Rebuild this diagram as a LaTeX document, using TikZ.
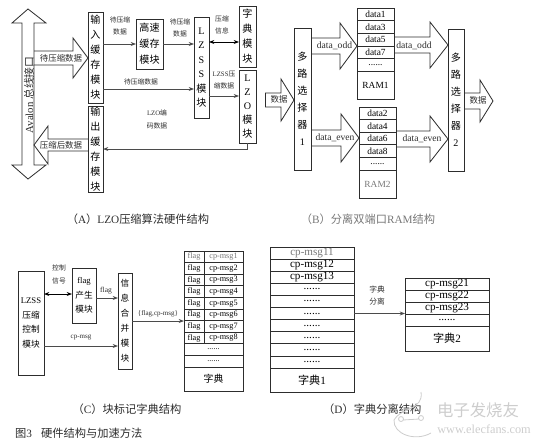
\documentclass[tikz,border=0pt]{standalone}
\usepackage{fontspec}
\setmainfont{Liberation Serif}
\newfontfamily\cjk{Noto Sans CJK SC}
\usepackage{xcolor}
\usetikzlibrary{arrows.meta, calc}
\definecolor{cLine}{RGB}{45,45,45}
\definecolor{cArrow}{RGB}{75,75,75}
\definecolor{cFaint}{RGB}{120,120,120}
\definecolor{cMark}{RGB}{205,205,205}
\newcommand{\zh}[1]{{\cjk #1}}
\def\ux{0.03cm}
\tikzset{
	modbox/.style   ={rectangle, draw=cLine, line width=0.7pt, fill=white, align=center, inner sep=0pt, outer sep=0pt, font=\fontsize{8.6}{12.8}\selectfont},
	ramcell/.style  ={rectangle, draw=cLine, line width=0.6pt, minimum width=37*\ux, minimum height=12.6*\ux, inner sep=0pt, outer sep=0pt, font=\fontsize{8}{9}\selectfont},
	flagcell/.style ={rectangle, draw=cLine, line width=0.6pt, minimum width=20*\ux, minimum height=11.6*\ux, inner sep=0pt, outer sep=0pt, font=\fontsize{7}{8}\selectfont},
	msgcell/.style  ={rectangle, draw=cLine, line width=0.6pt, minimum width=39*\ux, minimum height=11.6*\ux, inner sep=0pt, outer sep=0pt, font=\fontsize{7}{8}\selectfont},
	wholecell/.style={rectangle, draw=cLine, line width=0.6pt, minimum width=59*\ux, minimum height=11.6*\ux, inner sep=0pt, outer sep=0pt, font=\fontsize{7}{8}\selectfont},
	dictcell/.style ={rectangle, draw=cLine, line width=0.6pt, minimum width=84*\ux, minimum height=12.1*\ux, inner sep=0pt, outer sep=0pt, font=\fontsize{9.5}{10}\selectfont},
	smalllbl/.style ={inner sep=0pt, align=center, text=cLine, font=\fontsize{5.8}{10.6}\selectfont},
	arrowlbl/.style ={inner sep=0pt, align=center, text=cLine, font=\fontsize{7.2}{9}\selectfont},
	datalbl/.style  ={inner sep=0pt, text=cLine, font=\fontsize{8.2}{9}\selectfont},
	caption/.style  ={inner sep=0pt, text=cLine, font=\fontsize{9.6}{11}\selectfont},
	sig/.style      ={-{Stealth[length=1.6mm]}, draw=cArrow, line width=0.7pt},
	sigboth/.style  ={{Stealth[length=1.6mm]}-{Stealth[length=1.6mm]}, draw=black, line width=0.7pt},
	blockline/.style={draw=cLine, line width=0.7pt},
}
\newcommand{\harrow}[6]{%
	\draw[blockline] (#1,{#4-#5}) -- (#2,{#4-#5}) -- (#2,{#4-#6}) -- (#3,#4) -- (#2,{#4+#6}) -- (#2,{#4+#5}) -- (#1,{#4+#5});}

\begin{document}
\begin{tikzpicture}[x=\ux, y=-\ux]
	\useasboundingbox (0,0) rectangle (541,445);
	% panel A
	\draw[blockline] (28,9) -- (46,23) -- (34,23) -- (34,165) -- (46,165) -- (28,179) -- (12,165) -- (22,165) -- (22,23) -- (12,23) -- cycle;
	\node[arrowlbl, rotate=90] (busname) at (29,95) {\fontsize{9.2}{10}\selectfont Avalon \zh{总线接口}};
	\harrow{34}{73}{88}{58}{7}{20}
	\harrow{88}{48}{34}{145}{6}{19}
	\node[arrowlbl] (busin) at (61,58) {\zh{待压缩数据}};
	\node[arrowlbl] (busout) at (61,145) {\zh{压缩后数据}};
	\node[modbox, minimum width=15*\ux, minimum height=91*\ux] (inbuf) at (95.5,57.5) {\zh{输}\\\zh{入}\\\zh{缓}\\\zh{存}\\\zh{模}\\\zh{块}};
	\node[modbox, minimum width=15*\ux, minimum height=86*\ux] (outbuf) at (95.5,149) {\zh{输}\\\zh{出}\\\zh{缓}\\\zh{存}\\\zh{模}\\\zh{块}};
	\node[modbox, minimum width=27*\ux, minimum height=50*\ux, font=\fontsize{8.6}{13.6}\selectfont] (cache) at (149.5,44) {\zh{高速}\\\zh{缓存}\\\zh{模块}};
	\node[modbox, minimum width=15*\ux, minimum height=101*\ux, font=\fontsize{8.6}{12.4}\selectfont] (lzss) at (201.5,67.5) {L\\Z\\S\\S\\\zh{模}\\\zh{块}};
	\node[modbox, minimum width=17*\ux, minimum height=61*\ux] (dict) at (247.5,36.5) {\zh{字}\\\zh{典}\\\zh{模}\\\zh{块}};
	\node[modbox, minimum width=17*\ux, minimum height=73*\ux, font=\fontsize{8.6}{12}\selectfont] (lzo) at (247.5,106.5) {L\\Z\\O\\\zh{模}\\\zh{块}};
	\draw[sig] (inbuf.east |- cache.west) -- (cache.west);
	\draw[sig] (cache.east) -- (cache.east -| lzss.west);
	\draw[sig] (inbuf.east |- 0,89) -- (lzss.west |- 0,89);
	\draw[sigboth] (lzss.east |- 0,42) -- (dict.west |- 0,42);
	\draw[sig] (lzss.east |- 0,96) -- (lzo.west |- 0,96);
	\draw[sig] (lzo.south) |- (outbuf.east |- 0,149);
	\node[smalllbl] (lblcache) at (120,26) {\zh{待压缩}\\\zh{数据}};
	\node[smalllbl] (lbllzss) at (180,28) {\zh{待压缩}\\\zh{数据}};
	\node[smalllbl] (lblinfo) at (222,25) {\zh{压缩}\\\zh{信息}};
	\node[smalllbl] (lblzss) at (224,80) {LZSS\zh{压}\\\zh{缩数据}};
	\node[smalllbl] (lbldirect) at (141,82) {\zh{待压缩数据}};
	\node[smalllbl] (lblcode) at (157,119.5) {LZO\zh{编}\\\zh{码数据}};
	\node[caption] (capa) at (138,219) {\zh{（}A\zh{）}LZO\zh{压缩算法硬件结构}};
	% panel B
	\harrow{265}{281}{294}{100}{7}{21}
	\draw[blockline] (265,93) -- (265,107);
	\node[arrowlbl] (inleft) at (279,99) {\zh{数据}};
	\node[modbox, minimum width=17*\ux, minimum height=142*\ux, font=\fontsize{8.6}{14.5}\selectfont] (muxa) at (302.5,99) {\zh{多}\\\zh{路}\\\zh{选}\\\zh{择}\\\zh{器}\\1};
	\node[modbox, minimum width=16*\ux, minimum height=142*\ux, font=\fontsize{8.6}{14.5}\selectfont] (muxb) at (456,100) {\zh{多}\\\zh{路}\\\zh{选}\\\zh{择}\\\zh{器}\\2};
	\node[ramcell] (rama1) at (375.5,14.5) {data1};
	\node[ramcell] (rama2) at (375.5,27.1) {data3};
	\node[ramcell] (rama3) at (375.5,39.7) {data5};
	\node[ramcell] (rama4) at (375.5,52.3) {data7};
	\node[ramcell] (rama5) at (375.5,64.9) {......};
	\node[ramcell, minimum height=28*\ux] (rama6) at (375.5,85.2) {RAM1};
	\node[ramcell] (ramb1) at (377.5,113.3) {data2};
	\node[ramcell] (ramb2) at (377.5,125.9) {data4};
	\node[ramcell] (ramb3) at (377.5,138.5) {data6};
	\node[ramcell] (ramb4) at (377.5,151.1) {data8};
	\node[ramcell] (ramb5) at (377.5,163.7) {......};
	\node[ramcell, minimum height=28*\ux, text=cFaint] (ramb6) at (377.5,184) {RAM2};
	\harrow{311}{340}{357}{46}{8}{23}
	\harrow{394}{430}{448}{45}{8}{23}
	\harrow{311}{341}{359}{138}{8}{24}
	\harrow{396}{430}{448}{139}{8}{23}
	\harrow{464}{480}{493}{101}{8}{21}
	\node[datalbl] (oddin) at (334.5,45.5) {data\_odd};
	\node[datalbl] (oddout) at (414,45.5) {data\_odd};
	\node[datalbl] (evenin) at (335,137.5) {data\_even};
	\node[datalbl] (evenout) at (422,139) {data\_even};
	\node[arrowlbl] (outright) at (478,100) {\zh{数据}};
	\node[caption, text=cFaint] (capb) at (368,219) {\zh{（}B\zh{）}\zh{分离双端口}RAM\zh{结构}};
	% panel C
	\node[modbox, minimum width=26*\ux, minimum height=104*\ux, font=\fontsize{7.4}{12.5}\selectfont] (ctrl) at (31,323) {LZSS\\\zh{压缩}\\\zh{控制}\\\zh{模块}};
	\node[modbox, minimum width=24*\ux, minimum height=55*\ux, font=\fontsize{7.4}{12.6}\selectfont] (flaggen) at (84,295.5) {flag\\\zh{产生}\\\zh{模块}};
	\node[modbox, minimum width=14*\ux, minimum height=96*\ux, font=\fontsize{7.4}{12.8}\selectfont] (merge) at (125,321) {\zh{信}\\\zh{息}\\\zh{合}\\\zh{并}\\\zh{模}\\\zh{块}};
	\node[flagcell, text=cFaint] (flaga) at (194,256.8) {flag};
	\node[msgcell, text=cFaint] (msga) at (223.5,256.8) {cp-msg1};
	\node[flagcell] (flagb) at (194,268.4) {flag};
	\node[msgcell] (msgb) at (223.5,268.4) {cp-msg2};
	\node[flagcell] (flagc) at (194,280) {flag};
	\node[msgcell] (msgc) at (223.5,280) {cp-msg3};
	\node[flagcell] (flagd) at (194,291.6) {flag};
	\node[msgcell] (msgd) at (223.5,291.6) {cp-msg4};
	\node[flagcell] (flage) at (194,303.2) {flag};
	\node[msgcell] (msge) at (223.5,303.2) {cp-msg5};
	\node[flagcell] (flagf) at (194,314.8) {flag};
	\node[msgcell] (msgf) at (223.5,314.8) {cp-msg6};
	\node[flagcell] (flagg) at (194,326.4) {flag};
	\node[msgcell] (msgg) at (223.5,326.4) {cp-msg7};
	\node[flagcell] (flagh) at (194,338) {flag};
	\node[msgcell] (msgh) at (223.5,338) {cp-msg8};
	\node[wholecell] (dotsa) at (213.5,349.6) {......};
	\node[wholecell] (dotsb) at (213.5,361.2) {......};
	\node[wholecell, minimum height=24*\ux, font=\fontsize{8.4}{9}\selectfont] (cdict) at (213.5,379) {\zh{字典}};
	\draw[sigboth] (ctrl.east |- 0,294) -- (flaggen.west |- 0,294);
	\draw[sig] (flaggen.east |- 0,298) -- (merge.west |- 0,298);
	\draw[sig] (ctrl.east |- 0,346) -- (merge.west |- 0,346);
	\draw[sig] (merge.east) -- (merge.east -| flaga.west);
	\node[smalllbl] (lblctrl) at (59,274.5) {\zh{控制}\\\zh{信号}};
	\node[smalllbl, font=\fontsize{6.4}{8}\selectfont] (lblflag) at (106,291) {flag};
	\node[smalllbl, font=\fontsize{6}{8}\selectfont] (lblcp) at (81,337) {cp-msg};
	\node[smalllbl, font=\fontsize{6}{8}\selectfont] (lblmerge) at (158,314) {\{flag,cp-msg\}};
	\node[caption] (capc) at (127,409) {\zh{（}C\zh{）}\zh{块标记字典结构}};
	\node[caption, anchor=west] (capfig) at (15,433) {\zh{图}3\hspace{0.8em}\zh{硬件结构与加速方法}};
	% panel D
	\node[dictcell, text=cFaint] (dea) at (312,253) {cp-msg11};
	\node[dictcell] (deb) at (312,265.1) {cp-msg12};
	\node[dictcell] (dec) at (312,277.2) {cp-msg13};
	\node[dictcell] (ded) at (312,289.3) {......};
	\node[dictcell] (dee) at (312,301.4) {......};
	\node[dictcell] (def) at (312,313.5) {......};
	\node[dictcell] (deg) at (312,325.6) {......};
	\node[dictcell] (deh) at (312,337.7) {......};
	\node[dictcell] (dei) at (312,349.8) {......};
	\node[dictcell] (dej) at (312,361.9) {......};
	\node[dictcell, minimum height=24*\ux] (dek) at (312,380) {\zh{字典}1};
	\node[dictcell] (dsa) at (447,284) {cp-msg21};
	\node[dictcell] (dsb) at (447,296.1) {cp-msg22};
	\node[dictcell] (dsc) at (447,308.2) {cp-msg23};
	\node[dictcell] (dsd) at (447,320.3) {......};
	\node[dictcell, minimum height=24.5*\ux] (dse) at (447,338.6) {\zh{字典}2};
	\draw[sig] (def.east) -- (def.east -| dsc.west);
	\node[smalllbl, font=\fontsize{6.6}{11}\selectfont] (lblsplit) at (377,295.5) {\zh{字典}\\\zh{分离}};
	\node[caption, anchor=west] (capd) at (323,409) {\zh{（}D\zh{）}\zh{字典分离结构}};
	% watermark
	\draw[cMark, line width=0.7pt] (421,392) .. controls (424,410) and (400,408) .. (394,420) .. controls (393,434) and (415,442) .. (431,433);
	\draw[cMark, line width=0.7pt] (401,419) circle (2.5) (421,418) circle (2.5) (403,420) -- (419,419);
	\node[inner sep=0pt, text=cMark, font=\fontsize{14}{15}\selectfont] (markname) at (478,410) {\zh{电子发烧友}};
	\node[inner sep=0pt, text=cMark, font=\fontsize{10.5}{12}\selectfont] (markurl) at (484,429) {www.elecfans.com};
\end{tikzpicture}
\end{document}
